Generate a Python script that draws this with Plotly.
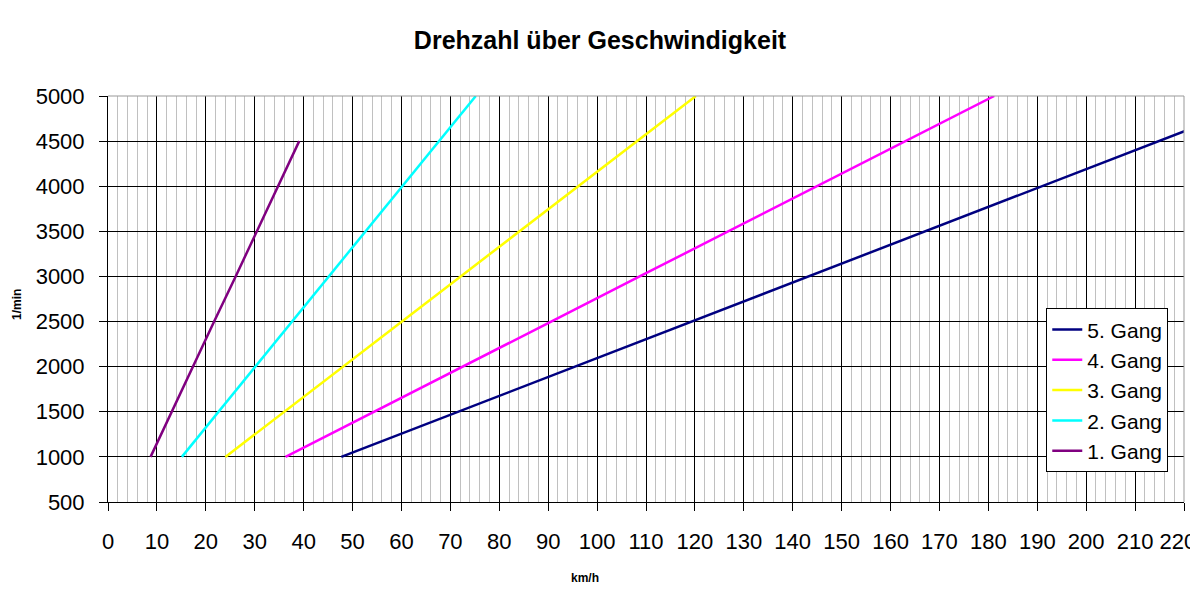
import plotly.graph_objects as go

# Data
rpm = [1000, 1500, 2000, 2500, 3000, 3500, 4000, 4500, 5000]
speed_gang1 = [8.7, 13.0, 17.4, 21.7, 26.1, 30.4, 34.8, 39.1]
speed_gang2 = [15.1, 22.6, 30.1, 37.6, 45.1, 52.6, 60.2, 67.7, 75.2]
speed_gang3 = [24.0, 36.1, 48.1, 60.1, 72.1, 84.1, 96.2, 108.2, 120.2]
speed_gang4 = [36.3, 54.3, 72.5, 90.6, 108.7, 126.8, 144.9, 163.0, 181.2]
speed_gang5 = [47.7, 71.6, 95.5, 119.3, 143.2, 167.1, 190.9, 214.8, 238.7]

series_names = ["1. Gang", "2. Gang", "3. Gang", "4. Gang", "5. Gang"]
series_speeds = [speed_gang1, speed_gang2, speed_gang3, speed_gang4, speed_gang5]
series_colors = ["#800080", "#00FFFF", "#FFFF00", "#FF00FF", "#000080"]

x_tick_values = list(range(0, 221, 10))
x_tick_labels = [str(v) for v in x_tick_values]
x_tick_labels[-1] = "220\u00a0\u00a0"  # pad so the last label stays inside the page
y_tick_values = list(range(500, 5001, 500))
y_tick_labels = [str(v) for v in y_tick_values]

title_text = "Drehzahl über Geschwindigkeit"
x_title = "km/h"
y_title = "1/min"

FONT = "Liberation Sans, Arial, sans-serif"

# the page body has an 8px default margin, so the figure is drawn at (8, 8)
W, H = 1190, 582

fig = go.Figure()
for name, spd, col in zip(series_names, series_speeds, series_colors):
    fig.add_trace(go.Scatter(
        x=spd, y=rpm[:len(spd)], mode="lines", name=name,
        line=dict(color=col, width=2.5),
        cliponaxis=True,
    ))

fig.update_layout(
    width=W, height=H,
    paper_bgcolor="white", plot_bgcolor="white",
    margin=dict(l=100, r=14, t=88, b=88, autoexpand=False),
    font=dict(family=FONT, color="black", size=22),
    title=dict(text="<b>" + title_text + "</b>", x=592 / W, xanchor="center",
               y=1 - 32 / H, yanchor="middle",
               font=dict(family=FONT, size=25, color="black")),
    showlegend=True,
    legend=dict(
        x=0.872, y=0.477, xanchor="left", yanchor="top",
        traceorder="reversed",
        bgcolor="white", bordercolor="black", borderwidth=1,
        font=dict(family=FONT, size=21, color="black"),
    ),
)

fig.update_xaxes(
    range=[0, 220], tickmode="array", tickvals=x_tick_values, ticktext=x_tick_labels,
    automargin=False, ticklabeloverflow="allow",
    showgrid=True, gridcolor="black", gridwidth=1,
    minor=dict(dtick=2, tick0=0, showgrid=True, gridcolor="#c0c0c0", gridwidth=1, ticks=""),
    showline=True, linecolor="black", linewidth=1,
    ticks="outside", ticklen=8, tickcolor="black",
    ticklabelstandoff=12,
    tickfont=dict(family=FONT, size=22, color="black"),
    zeroline=False,
)
fig.update_yaxes(
    range=[500, 5000], tickmode="array", tickvals=y_tick_values, ticktext=y_tick_labels,
    automargin=False, ticklabeloverflow="allow",
    showgrid=True, gridcolor="black", gridwidth=1,
    showline=True, linecolor="black", linewidth=1,
    ticks="outside", ticklen=8, tickcolor="black",
    ticklabelstandoff=10,
    tickfont=dict(family=FONT, size=22, color="black"),
    zeroline=False,
)

# axis titles placed as in the reference
fig.add_annotation(text="<b>" + x_title + "</b>", xref="paper", yref="paper",
                   x=(577 - 100) / 1076, y=-76 / 406, xanchor="center", yanchor="middle",
                   showarrow=False, font=dict(family=FONT, size=12, color="black"))
fig.add_annotation(text="<b>" + y_title + "</b>", xref="paper", yref="paper",
                   x=(9 - 100) / 1076, y=(494 - 297) / 406, xanchor="center", yanchor="middle",
                   textangle=-90, showarrow=False,
                   font=dict(family=FONT, size=12, color="black"))

# gray frame on top and right of the plot area
fig.add_shape(type="line", xref="paper", yref="paper", x0=0, x1=1, y0=1, y1=1,
              line=dict(color="#999999", width=1))
fig.add_shape(type="line", xref="paper", yref="paper", x0=1, x1=1, y0=0, y1=1,
              line=dict(color="#999999", width=1))

fig.write_html("out.html")
